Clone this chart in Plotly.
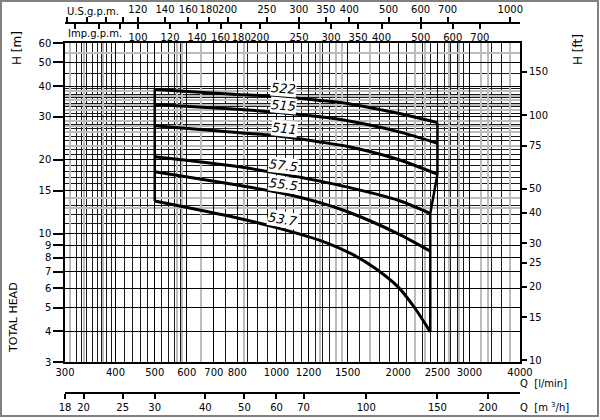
import numpy as np
import plotly.graph_objects as go

# pump curves: Q in l/min, H in m
q_522 = [500, 800, 1000, 1280, 1500, 1800, 2000, 2500]
h_522 = [38.8, 37.0, 36.3, 35.0, 34.0, 32.1, 31.0, 28.4]
q_515 = [500, 800, 1000, 1280, 1500, 2000, 2500]
h_515 = [33.7, 32.2, 31.3, 30.0, 28.9, 26.1, 23.4]
q_511 = [500, 800, 1000, 1280, 1500, 2000, 2500]
h_511 = [27.6, 25.9, 25.1, 23.7, 22.7, 20.1, 17.5]
q_575 = [500, 800, 1000, 1280, 1500, 2000, 2400]
h_575 = [20.6, 18.8, 17.7, 16.4, 15.5, 13.7, 12.1]
q_555 = [500, 800, 1000, 1280, 1500, 2000, 2400]
h_555 = [17.9, 15.8, 14.8, 13.4, 12.3, 10.0, 8.5]
q_537 = [500, 800, 1000, 1280, 1550, 1750, 2000, 2200, 2400]
h_537 = [13.6, 11.6, 10.6, 9.4, 8.2, 7.25, 6.06, 4.97, 3.98]

curve_names = ['522', '515', '511', '57.5', '55.5', '53.7']
label_q = [1040, 1040, 1045, 1040, 1040, 1040]
label_h = [39.3, 33.3, 26.9, 19.0, 15.9, 11.4]
label_angle = [4, 5, 6, 7, 8, 10]

# axis ticks
q_ticks = [300, 400, 500, 600, 700, 800, 1000, 1200, 1500, 2000, 2500, 3000, 4000]
h_ticks = [3, 4, 5, 6, 7, 8, 9, 10, 15, 20, 30, 40, 50, 60]
ft_ticks = [10, 15, 20, 25, 30, 40, 50, 75, 100, 150]
m3h_ticks = [18, 20, 25, 30, 40, 50, 60, 70, 100, 150, 200]
us_ticks = [80, 90, 100, 110, 120, 140, 160, 180, 200, 250, 300, 350, 400, 500, 600, 700, 1000]
us_labels = ['', '', '', '', '120', '140', '160', '180', '200', '250', '300', '350', '400',
             '500', '600', '700', '1000']
imp_ticks = [70, 80, 90, 100, 120, 140, 160, 180, 200, 250, 300, 350, 400, 500, 600, 700]
imp_labels = ['', '', '', '100', '120', '140', '160', '180', '200', '250', '300', '350', '400',
              '500', '600', '700']

# grid
q_minor = ([v for v in range(310, 400, 10)] + [v for v in range(420, 600, 20)]
           + [v for v in range(650, 1500, 50) if v not in q_ticks]
           + [v for v in range(1600, 3000, 100) if v not in q_ticks] + [3200, 3400, 3600, 3800])
h_minor = [11, 12, 13, 14, 16, 17, 18, 19] + list(range(21, 30)) + list(range(31, 40)) + [45]
ft_grey = [42, 46, 75, 85, 90, 95, 105, 110, 115, 120, 125, 180]
m3h_grey = [18.5, 20, 22.3, 34, 35, 39, 50, 77, 84, 87, 102, 132, 140, 160, 170, 192, 200, 227]

LPM_PER_USGPM = 3.785411784
LPM_PER_IMPGPM = 4.54609
M_PER_FT = 0.3048
Q_MIN, Q_MAX = 300, 4000
H_MIN, H_MAX = 3, 60

# page layout in pixels
W, H = 600, 420
ML, MR, MT, MB = 65, 80, 5, 5
pw, ph = W - ML - MR, H - MT - MB


def px(x):
    return (x - ML) / pw


def py(y):
    return (H - MB - y) / ph


fnt = dict(family='DejaVu Sans', size=10, color='black')

fig = go.Figure()
curves = [(q_522, h_522), (q_515, h_515), (q_511, h_511),
          (q_575, h_575), (q_555, h_555), (q_537, h_537)]
for (q, h), name in zip(curves, curve_names):
    fig.add_trace(go.Scatter(x=q, y=h, mode='lines', name=name, hoverinfo='skip',
                             line=dict(color='black', width=3, shape='spline', smoothing=0.8)))

# envelope lines
fig.add_trace(go.Scatter(x=[q_522[0], q_537[0]], y=[h_522[0], h_537[0]], mode='lines',
                         hoverinfo='skip', line=dict(color='black', width=2.5)))
fig.add_trace(go.Scatter(x=[q_522[-1], q_511[-1], q_575[-1], q_537[-1]],
                         y=[h_522[-1], h_511[-1], h_575[-1], h_537[-1]], mode='lines',
                         hoverinfo='skip', line=dict(color='black', width=2.5)))

# empty traces so the extra unit axes get their subplots
for xa, ya in [('x2', 'y'), ('x3', 'y'), ('x4', 'y'), ('x', 'y2')]:
    fig.add_trace(go.Scatter(x=[], y=[], xaxis=xa, yaxis=ya, hoverinfo='skip'))

ydom = [py(362), py(43)]
lg = np.log10

fig.update_layout(
    width=W, height=H, autosize=False,
    margin=dict(l=ML, r=MR, t=MT, b=MB, autoexpand=False),
    paper_bgcolor='white', plot_bgcolor='white',
    showlegend=False, font=fnt,
    xaxis=dict(type='log', range=[lg(Q_MIN), lg(Q_MAX)], domain=[0, 1], anchor='y',
               tickmode='array', tickvals=q_ticks, ticktext=[str(v) for v in q_ticks],
               ticks='', tickangle=0, automargin=False,
               showgrid=True, gridcolor='black', gridwidth=1.4,
               minor=dict(tickmode='array', tickvals=q_minor, showgrid=True,
                          gridcolor='#1a1a1a', gridwidth=0.8, ticks=''),
               showline=True, linecolor='black', linewidth=1.5, mirror=True, zeroline=False),
    yaxis=dict(type='log', range=[lg(H_MIN), lg(H_MAX)], domain=ydom, anchor='x',
               tickmode='array', tickvals=h_ticks, ticktext=[str(v) for v in h_ticks],
               ticks='outside', ticklen=10, tickwidth=1.5, tickcolor='black', automargin=False,
               showgrid=True, gridcolor='black', gridwidth=1.4,
               minor=dict(tickmode='array', tickvals=h_minor, showgrid=True,
                          gridcolor='#1a1a1a', gridwidth=0.8, ticks=''),
               showline=True, linecolor='black', linewidth=1.5, mirror=True, zeroline=False),
    yaxis2=dict(type='log', overlaying='y', side='right', anchor='x', domain=ydom,
                range=[lg(H_MIN / M_PER_FT), lg(H_MAX / M_PER_FT)],
                tickmode='array', tickvals=ft_ticks, ticktext=[str(v) for v in ft_ticks],
                ticks='outside', ticklen=6, tickwidth=1.5, tickcolor='black', automargin=False,
                showgrid=False, zeroline=False, showline=False,
                minor=dict(tickmode='array', tickvals=ft_grey, showgrid=True,
                           gridcolor='#bdbdbd', gridwidth=2, ticks='')),
    xaxis2=dict(type='log', overlaying='x', side='top', anchor='free', position=py(23),
                range=[lg(Q_MIN / LPM_PER_USGPM), lg(Q_MAX / LPM_PER_USGPM)],
                tickmode='array', tickvals=us_ticks, ticktext=us_labels, tickangle=0,
                ticks='outside', ticklen=5, tickwidth=1.5, tickcolor='black', automargin=False,
                showline=True, linecolor='black', linewidth=1.5, showgrid=False, zeroline=False),
    xaxis3=dict(type='log', overlaying='x', side='bottom', anchor='free', position=py(23),
                range=[lg(Q_MIN / LPM_PER_IMPGPM), lg(Q_MAX / LPM_PER_IMPGPM)],
                tickmode='array', tickvals=imp_ticks, ticktext=imp_labels, tickangle=0,
                ticks='outside', ticklen=5, tickwidth=1.5, tickcolor='black', automargin=False,
                showline=False, showgrid=False, zeroline=False),
    xaxis4=dict(type='log', overlaying='x', side='bottom', anchor='free', position=py(393),
                range=[lg(Q_MIN * 0.06), lg(Q_MAX * 0.06)],
                tickmode='array', tickvals=m3h_ticks, ticktext=[str(v) for v in m3h_ticks],
                tickangle=0, ticks='outside', ticklen=5, tickwidth=1.5, tickcolor='black',
                automargin=False,
                showline=True, linecolor='black', linewidth=1.5, showgrid=False, zeroline=False,
                minor=dict(tickmode='array', tickvals=m3h_grey, showgrid=True,
                           gridcolor='#bdbdbd', gridwidth=2, ticks='')),
)

for name, q, h, ang in zip(curve_names, label_q, label_h, label_angle):
    fig.add_annotation(x=lg(q), y=lg(h), xref='x', yref='y', text='<i>' + name + '</i>',
                       showarrow=False, textangle=ang, bgcolor='white', borderpad=0,
                       font=dict(family='DejaVu Sans', size=13, color='black'))

side_texts = [
    ('U.S.g.p.m.', px(65), py(11), 'left', 0, 10),
    ('Imp.g.p.m.', px(66), py(34), 'left', 0, 10),
    ('Q  [l/min]', px(518), py(383), 'left', 0, 10),
    ('Q  [m <sup>3</sup>/h]', px(518), py(407), 'left', 0, 10),
    ('H [m]', px(17), py(48), 'center', -90, 12),
    ('H [ft]', px(578), py(50), 'center', -90, 12),
    ('TOTAL HEAD', px(13), py(318), 'center', -90, 11),
]
for txt, x, y, xa, ang, sz in side_texts:
    fig.add_annotation(x=x, y=y, xref='paper', yref='paper', text=txt, showarrow=False,
                       xanchor=xa, yanchor='middle', textangle=ang,
                       font=dict(family='DejaVu Sans', size=sz, color='black'))

# outer frame of the sheet
fig.add_shape(type='rect', xref='paper', yref='paper', x0=px(1), x1=px(598), y0=py(416), y1=py(1),
              line=dict(color='#808080', width=2))

fig.write_html("out.html", config={"displayModeBar": False},
               post_script="document.body.style.margin = '0px';")
